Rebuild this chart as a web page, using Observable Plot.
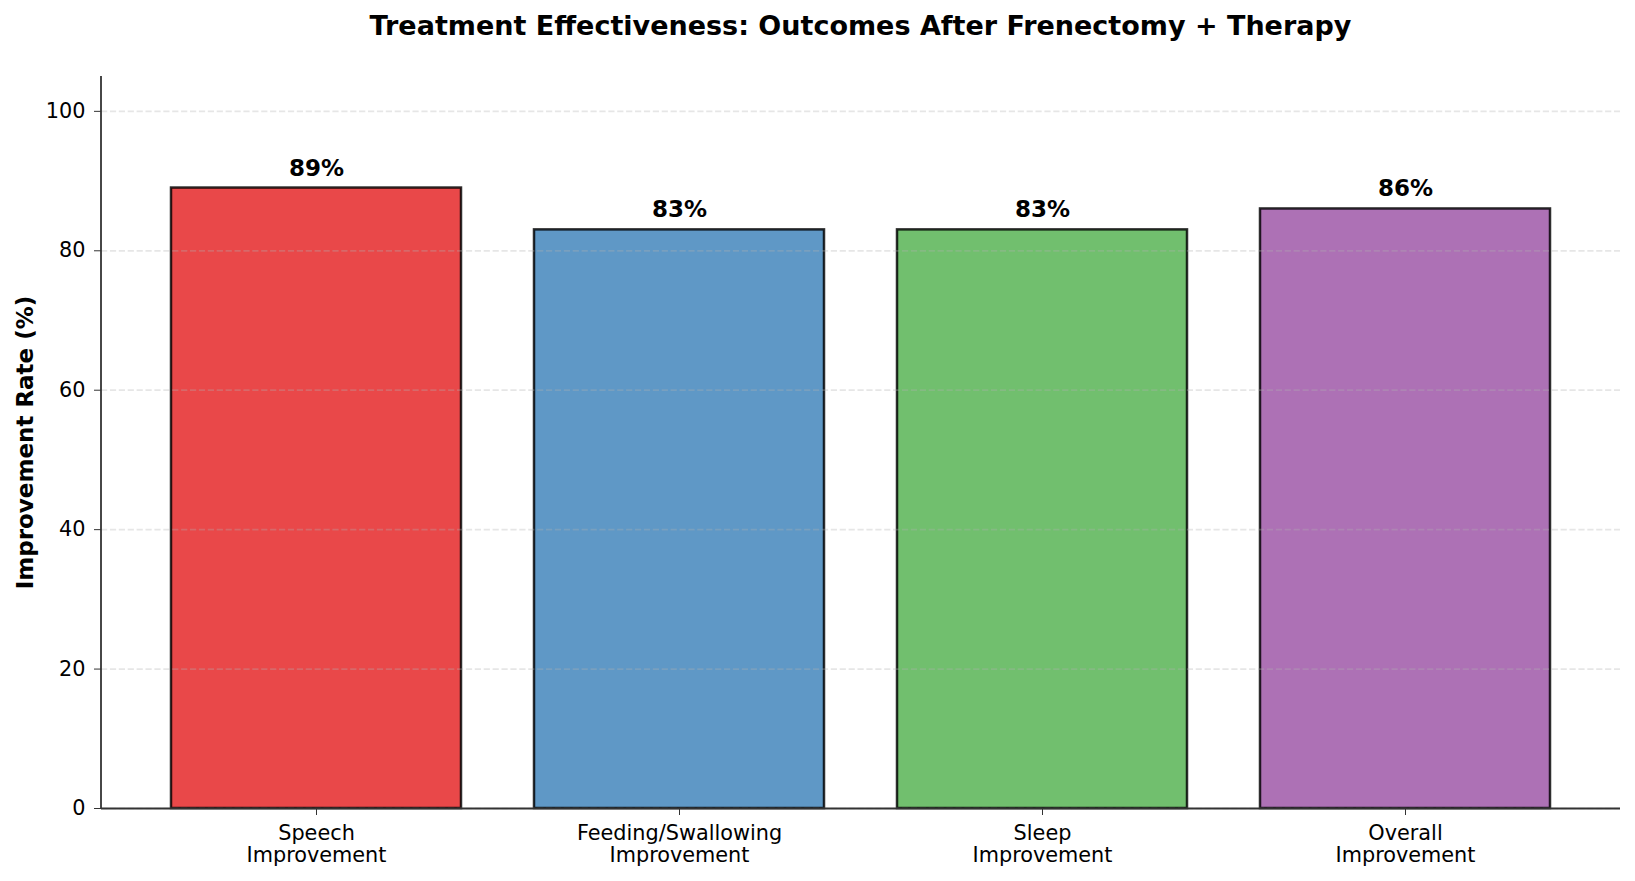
<!DOCTYPE html>
<html>
<head>
<meta charset="utf-8">
<script src="https://cdn.jsdelivr.net/npm/d3@7"></script>
<script src="https://cdn.jsdelivr.net/npm/@observablehq/plot@0.6"></script>
<style>
  html, body { margin: 0; padding: 0; background: #fff; }
  #wrap { width: 1635px; height: 881px; overflow: hidden; }
  #title {
    box-sizing: border-box;
    height: 56px;
    padding: 10px 15px 0 101px;
    line-height: 31px;
    text-align: center;
    font-family: "DejaVu Sans", sans-serif;
    font-weight: bold;
    font-size: 27px;
    color: #000;
  }
</style>
</head>
<body>
<div id="wrap">
  <div id="title">Treatment Effectiveness: Outcomes After Frenectomy + Therapy</div>
  <div id="chart"></div>
</div>
<script>
// Outcome categories (two-line labels) and their improvement rates
const categories = [
  "Speech\nImprovement",
  "Feeding/Swallowing\nImprovement",
  "Sleep\nImprovement",
  "Overall\nImprovement"
];
const rates = [89, 83, 83, 86];
const barColors = ["#e41a1c", "#377eb8", "#4daf4a", "#984ea3"];
const yTicks = [0, 20, 40, 60, 80, 100];
const yLabel = "Improvement Rate (%)";

const data = categories.map((c, i) => ({category: c, rate: rates[i]}));

// Left spine drawn along the frame's left edge
const leftSpine = (index, scales, values, dims) => {
  const g = d3.create("svg:g");
  g.append("line")
    .attr("x1", dims.marginLeft).attr("x2", dims.marginLeft)
    .attr("y1", dims.marginTop).attr("y2", dims.height - dims.marginBottom)
    .attr("stroke", "#333").attr("stroke-width", 1.8);
  return g.node();
};

const chart = Plot.plot({
  width: 1635,
  height: 825,
  marginTop: 20,
  marginBottom: 73,
  marginLeft: 101,
  marginRight: 15,
  style: {fontFamily: "DejaVu Sans, sans-serif", background: "#fff", color: "#000", overflow: "visible"},
  x: {type: "band", domain: categories, paddingInner: 0.2, paddingOuter: 0.19, label: null},
  y: {domain: [0, 105], label: null},
  color: {domain: categories, range: barColors},
  marks: [
    Plot.barY(data, {
      x: "category", y: "rate", fill: "category", fillOpacity: 0.8,
      stroke: "#000", strokeOpacity: 0.82, strokeWidth: 2.5
    }),
    Plot.gridY(yTicks, {stroke: "#b0b0b0", strokeOpacity: 0.32, strokeWidth: 1.7, strokeDasharray: "6.2,2.7"}),
    Plot.text(data, {
      x: "category", y: "rate", text: d => `${d.rate}%`,
      lineAnchor: "bottom", dy: -12.5,
      fontWeight: "bold", fontSize: 23, fill: "#000"
    }),
    Plot.axisY({ticks: yTicks, tickSize: 7, tickPadding: 9, fontSize: 20.8, stroke: "#333", fill: "#000", label: null}),
    Plot.axisX({tickSize: 7, tickPadding: 9, fontSize: 20.8, lineHeight: 1.06, stroke: "#333", fill: "#000", label: null}),
    Plot.text([yLabel], {
      text: d => d, frameAnchor: "left", textAnchor: "middle", rotate: -90, dx: -76,
      fontWeight: "bold", fontSize: 23, fill: "#000"
    }),
    Plot.ruleY([0], {stroke: "#333", strokeWidth: 1.8}),
    leftSpine
  ]
});

document.getElementById("chart").appendChild(chart);
</script>
</body>
</html>
